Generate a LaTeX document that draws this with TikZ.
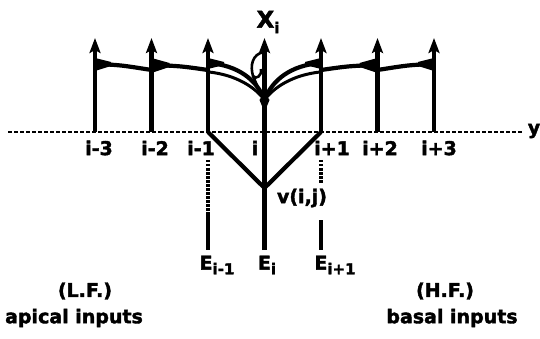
\documentclass[tikz,border=0pt]{standalone}
\usepackage{fontspec}
\setmainfont{DejaVu Sans}[BoldFeatures={FakeBold=2}]
\usetikzlibrary{arrows.meta}
\newcommand\lowsub[1]{\raisebox{-0.45ex}{\fontsize{15}{16}\selectfont #1}}
\tikzset{
  cell/.style={line width=4.4pt,-{Stealth[length=15pt,width=11pt,inset=3pt]}},
  link/.style={line width=4.2pt},
  inlink/.style={line width=3.4pt,dash pattern=on 2.5pt off 1.5pt},
  lbl/.style={font=\bfseries\fontsize{19}{21}\selectfont,inner sep=0pt},
}
\begin{document}
\begin{tikzpicture}[x=1pt,y=-1pt]
\useasboundingbox (0,0) rectangle (540,339);
% cells along the y axis
\foreach \k in {1,...,7}{
  \coordinate (a\k) at ({95+56.5*(\k-1)},132);
  \coordinate (t\k) at ({95+56.5*(\k-1)},38);
}
\coordinate (ya) at (8,132);
\coordinate (yb) at (522,132);
\draw[line width=2.8pt,dash pattern=on 4pt off 2pt] (ya) -- (yb);
\node[lbl] (ylab) at (534,131) {y};
\foreach \k in {1,2,3,5,6,7}
  \draw[cell] (a\k) -- (t\k);
\coordinate (bot) at (264.5,250);
\draw[cell] (bot) -- (t4);
\node[lbl,font=\bfseries\fontsize{23}{25}\selectfont] (xi) at (268,22) {X\lowsub{i}};
% lateral links
\coordinate (l1) at (95,64);   \coordinate (r1) at (151.5,70);
\coordinate (l2) at (151.5,65); \coordinate (r2) at (208,70);
\coordinate (l6) at (377.5,70); \coordinate (r6) at (434,64);
\coordinate (l5) at (321,70);   \coordinate (r5) at (377.5,65);
\draw[link] (l1) .. controls (120,65) .. (r1);
\draw[link] (l2) .. controls (180,66) .. (r2);
\draw[link] (l5) .. controls (349,66) .. (r5);
\draw[link] (l6) .. controls (409,65) .. (r6);
\fill (l1)++(0,-6) -- ++(16,4) -- ++(0,4) -- ++(-16,5) -- cycle;
\fill (l2)++(0,-7) -- ++(18,5) -- ++(0,4) -- ++(-18,6) -- cycle;
\fill (r5)++(0,-7) -- ++(-18,5) -- ++(0,4) -- ++(18,6) -- cycle;
\fill (r6)++(0,-6) -- ++(-16,4) -- ++(0,4) -- ++(16,5) -- cycle;
% links into the centre
\coordinate (c) at (264.5,100);
\coordinate (ua) at (208,63);  \coordinate (ub) at (209,72);
\coordinate (va) at (321,63);  \coordinate (vb) at (320,72);
\draw[link] (ua) .. controls (238,65) and (257,80) .. (c);
\draw[line width=3pt] (ub) .. controls (236,75) and (255,87) .. (c);
\draw[link] (va) .. controls (291,65) and (272,80) .. (c);
\draw[line width=3pt] (vb) .. controls (293,75) and (274,87) .. (c);
\fill (ua)++(0,-5) -- ++(16,4) -- ++(0,3) -- ++(-16,4) -- cycle;
\fill (va)++(0,-5) -- ++(-16,4) -- ++(0,3) -- ++(16,4) -- cycle;
\fill (c)++(-5,0) -- ++(5,-8) -- ++(5,8) -- ++(-5,12) -- cycle;
% self loop
\coordinate (sa) at (264,52);
\coordinate (sb) at (253,76);
\coordinate (sc) at (259,90);
\draw[line width=2.6pt] (sa) .. controls (252,54) and (250,66) .. (sb)
  .. controls (256,80) and (262,76) .. (261,69);
\draw[line width=2.6pt] (sb) -- (sc);
% axis labels
\node[lbl] (m3) at (99,148) {i-3};
\node[lbl] (m2) at (155,148) {i-2};
\node[lbl] (m1) at (201,148) {i-1};
\node[lbl] (p0) at (255,148) {i};
\node[lbl] (p1) at (332,148) {i+1};
\node[lbl] (p2) at (380,148) {i+2};
\node[lbl] (p3) at (439,148) {i+3};
% inputs below
\coordinate (v) at (264.5,188);
\draw[link] (a3) -- (v) -- (a5);
\coordinate (d1) at (208,160); \coordinate (d2) at (208,215); \coordinate (d3) at (208,250);
\coordinate (e1) at (321,160); \coordinate (e2) at (321,184);
\coordinate (e3) at (321,220); \coordinate (e4) at (321,250);
\draw[inlink] (d1) -- (d2);
\draw[link] (d2) -- (d3);
\draw[inlink] (e1) -- (e2);
\draw[link] (e3) -- (e4);
\node[lbl] (vij) at (302,198) {v(i,j)};
\node[lbl] (em) at (217,265) {E\lowsub{i-1}};
\node[lbl] (e0) at (267,265) {E\lowsub{i}};
\node[lbl] (ep) at (335,265) {E\lowsub{i+1}};
\node[lbl] (lf) at (85,291) {(L.F.)};
\node[lbl] (ap) at (74,318) {apical inputs};
\node[lbl] (hf) at (445,291) {(H.F.)};
\node[lbl] (bs) at (452,318) {basal inputs};
\end{tikzpicture}
\end{document}
